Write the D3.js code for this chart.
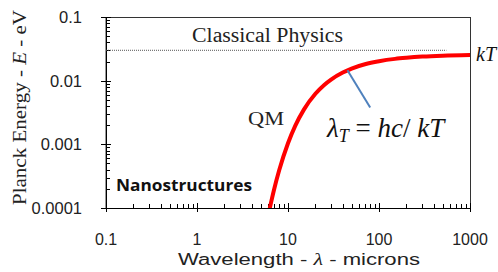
<!DOCTYPE html>
<html>
<head>
<meta charset="utf-8">
<script src="https://cdn.jsdelivr.net/npm/d3@7"></script>
<style>
body { margin: 0; background: #fff; }
svg { display: block; }
</style>
</head>
<body>
<svg id="chart" width="498" height="272"></svg>
<script>
// wavelength (microns) and Planck energy (eV)
var wavelength = [6.3, 7, 8, 10, 12, 15, 20, 25, 30, 40, 50, 70, 100, 150, 200, 300, 500, 1000];
var energy = [0.0000987, 0.00019, 0.000391, 0.00104, 0.00195, 0.00354, 0.00622, 0.00857, 0.0105, 0.0134, 0.0155, 0.0181, 0.0202, 0.022, 0.0229, 0.0239, 0.0247, 0.0253];
var classicalLevel = [0.1, 550, 0.03]; // x from, x to, level
var xTicks = [0.1, 1, 10, 100, 1000];
var yTicks = [0.0001, 0.001, 0.01, 0.1];
var xTickLabels = ["0.1", "1", "10", "100", "1000"];
var yTickLabels = ["0.0001", "0.001", "0.01", "0.1"];

var svg = d3.select("#chart");
var m = {left: 106, right: 470, top: 17, bottom: 208};

var x = d3.scaleLog().domain([0.1, 1000]).range([m.left, m.right]);
var y = d3.scaleLog().domain([0.0001, 0.1]).range([m.bottom, m.top]);

//minor ticks
var minorX = [], minorY = [];
xTicks.slice(0, -1).forEach(function(t) {
    for (var k = 2; k < 10; k++) minorX.push(t * k);
});
yTicks.slice(0, -1).forEach(function(t) {
    for (var k = 2; k < 10; k++) minorY.push(t * k);
});

svg.append("clipPath").attr("id", "clip")
    .append("rect")
    .attr("x", m.left).attr("y", m.top)
    .attr("width", m.right - m.left).attr("height", m.bottom - m.top);

// frame
svg.append("rect")
    .attr("x", m.left).attr("y", m.top + 0.5)
    .attr("width", m.right - m.left + 0.5).attr("height", m.bottom - m.top)
    .attr("fill", "none").attr("stroke", "#333").attr("stroke-width", 1);

var ax = svg.append("g").attr("stroke", "#000").attr("stroke-width", 1);
ax.selectAll(".mx").data(minorX).enter().append("line")
    .attr("x1", function(d) { return Math.round(x(d)) + 0.5; })
    .attr("x2", function(d) { return Math.round(x(d)) + 0.5; })
    .attr("y1", m.bottom).attr("y2", m.bottom - 4);
ax.selectAll(".Mx").data(xTicks).enter().append("line")
    .attr("x1", function(d) { return Math.round(x(d)) + 0.5; })
    .attr("x2", function(d) { return Math.round(x(d)) + 0.5; })
    .attr("y1", m.bottom + 4).attr("y2", m.bottom - 5);
ax.selectAll(".my").data(minorY).enter().append("line")
    .attr("y1", function(d) { return Math.round(y(d)) + 0.5; })
    .attr("y2", function(d) { return Math.round(y(d)) + 0.5; })
    .attr("x1", m.left).attr("x2", m.left + 4);
ax.selectAll(".My").data(yTicks).enter().append("line")
    .attr("y1", function(d) { return Math.round(y(d)) + 0.5; })
    .attr("y2", function(d) { return Math.round(y(d)) + 0.5; })
    .attr("x1", m.left - 5).attr("x2", m.left + 5);
ax.append("line")
    .attr("x1", m.left + 0.5).attr("x2", m.left + 0.5)
    .attr("y1", m.top).attr("y2", m.bottom);
ax.append("line")
    .attr("x1", m.left).attr("x2", m.right)
    .attr("y1", m.bottom + 0.5).attr("y2", m.bottom + 0.5);

// tick labels
svg.selectAll(".xl").data(xTicks).enter().append("text")
    .attr("x", function(d) { return x(d); })
    .attr("y", 245)
    .attr("text-anchor", "middle")
    .attr("font-family", "Liberation Sans, Arial")
    .attr("font-size", 16)
    .attr("fill", "#222")
    .text(function(d, i) { return xTickLabels[i]; });

svg.selectAll(".yl").data(yTicks).enter().append("text")
    .attr("x", 82)
    .attr("y", function(d) { return y(d) + 6; })
    .attr("text-anchor", "end")
    .attr("font-family", "Liberation Sans, Arial")
    .attr("font-size", 16.5)
    .attr("fill", "#222")
    .text(function(d, i) { return yTickLabels[i]; });

// classical level
svg.append("line")
    .attr("x1", x(classicalLevel[0])).attr("x2", x(classicalLevel[1]))
    .attr("y1", y(classicalLevel[2])).attr("y2", y(classicalLevel[2]))
    .attr("stroke", "#555").attr("stroke-width", 1)
    .attr("stroke-dasharray", "1,1");

// curve
var line = d3.line()
    .x(function(d, i) { return x(wavelength[i]); })
    .y(function(d) { return y(d); })
    .curve(d3.curveMonotoneX);

svg.append("path")
    .datum(energy)
    .attr("clip-path", "url(#clip)")
    .attr("d", line)
    .attr("fill", "none")
    .attr("stroke", "#ff0000")
    .attr("stroke-width", 4)
    .attr("stroke-linecap", "round");

// pointer to lambda_T
svg.append("line")
    .attr("x1", x(45)).attr("y1", y(0.0146))
    .attr("x2", x(80)).attr("y2", y(0.0038))
    .attr("stroke", "#4f81bd").attr("stroke-width", 2);

var serif = "Liberation Serif, Times New Roman, serif";
svg.append("text")
    .attr("x", 192).attr("y", 42)
    .attr("font-family", serif).attr("font-size", 20)
    .attr("textLength", 151).attr("lengthAdjust", "spacingAndGlyphs")
    .attr("fill", "#222")
    .text("Classical Physics");

svg.append("text")
    .attr("x", 476).attr("y", 61)
    .attr("font-family", serif).attr("font-size", 20)
    .attr("font-style", "italic")
    .attr("fill", "#111")
    .text("kT");

svg.append("text")
    .attr("x", 248).attr("y", 125)
    .attr("font-family", serif).attr("font-size", 18)
    .attr("textLength", 36).attr("lengthAdjust", "spacingAndGlyphs")
    .attr("fill", "#222")
    .text("QM");

var lt = svg.append("text")
    .attr("x", 327).attr("y", 137)
    .attr("font-family", serif).attr("font-size", 27)
    .attr("font-style", "italic")
    .attr("fill", "#111");
lt.append("tspan").text("λ");
lt.append("tspan").attr("dy", 5).attr("font-size", 18).text("T");
lt.append("tspan").attr("dy", -5).attr("font-style", "normal").text(" = ");
lt.append("tspan").text("hc");
lt.append("tspan").attr("font-style", "normal").text("/ ");
lt.append("tspan").text("kT");

svg.append("text")
    .attr("x", 116).attr("y", 191)
    .attr("font-family", "Open Sans, Liberation Sans, sans-serif")
    .attr("font-weight", "bold")
    .attr("font-size", 16)
    .attr("textLength", 136).attr("lengthAdjust", "spacingAndGlyphs")
    .attr("fill", "#111")
    .text("Nanostructures");

// axis titles
var xt = svg.append("text")
    .attr("x", 178).attr("y", 265)
    .attr("font-family", "Liberation Sans, Arial")
    .attr("font-size", 16)
    .attr("textLength", 242).attr("lengthAdjust", "spacingAndGlyphs")
    .attr("fill", "#222");
xt.append("tspan").text("Wavelength - ");
xt.append("tspan").attr("font-family", serif).attr("font-style", "italic").text("λ");
xt.append("tspan").text(" -  microns");

var yt = svg.append("text")
    .attr("transform", "translate(26,205) rotate(-90)")
    .attr("font-family", serif)
    .attr("font-size", 18)
    .attr("textLength", 195).attr("lengthAdjust", "spacingAndGlyphs")
    .attr("fill", "#222");
yt.append("tspan").text("Planck Energy - ");
yt.append("tspan").attr("font-style", "italic").text("E");
yt.append("tspan").text(" - eV");
</script>
</body>
</html>
